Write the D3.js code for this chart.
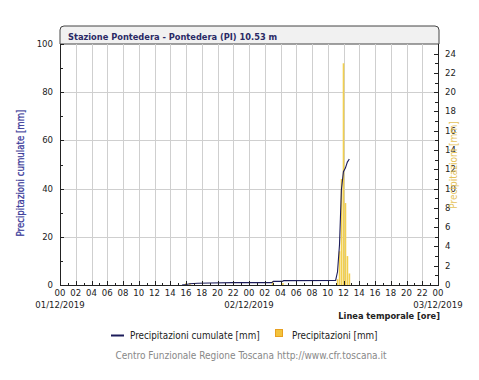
<!DOCTYPE html>
<html><head><meta charset="utf-8">
<script src="https://cdn.jsdelivr.net/npm/d3@7"></script>
<style>
body{margin:0;background:#fff;}
svg text{font-family:"DejaVu Sans Condensed","DejaVu Sans",sans-serif;}
</style></head>
<body><svg id="c" width="479" height="380"></svg>
<script>
// hours since 00:00 01/12/2019
const cumTimes  = [15.5, 16.0, 16.5, 17.5, 19.0, 22.0, 26.9, 27.1, 28.2, 28.4, 35.0, 35.24, 35.49, 35.73, 35.99, 36.24, 36.49, 36.74];
const cumValues = [0.0,  0.2,  0.5,  0.7,  0.8,  1.0,  1.0,  1.5,  1.5,  1.8,  1.9,  5.5,   16.6,  39.4,  47.0,  48.5,  51.0,  52.3];
const barTimes  = [16.0, 16.5, 27.0, 28.3, 35.25, 35.5, 35.75, 36.0, 36.25, 36.5, 36.75];
const barValues = [0.2,  0.2,  0.4,  0.2,  0.6,   3.5,  11.0,  23.0, 8.5,   3.0,  1.2];
const hourLabels = ["00","02","04","06","08","10","12","14","16","18","20","22",
                    "00","02","04","06","08","10","12","14","16","18","20","22","00"];
const dateLabels = [{h:0,t:"01/12/2019"},{h:24,t:"02/12/2019"},{h:48,t:"03/12/2019"}];
const leftTicks = [0,20,40,60,80,100];
const rightTicks = [0,2,4,6,8,10,12,14,16,18,20,22,24];

const svg = d3.select("#c");
const L=60, R=438, T=44, B=285;
const x = d3.scaleLinear().domain([0,48]).range([L,R]);
const yL = d3.scaleLinear().domain([0,100]).range([B,T]);
const yR = d3.scaleLinear().domain([0,25]).range([B,T]);
const navy = "#1c1c5a";

// title bar
const tb = svg.append("g");
tb.append("path")
  .attr("d", `M${L},${T} L${L},${26+4} Q${L},26 ${L+4},26 L${R+1-4},26 Q${R+1},26 ${R+1},30 L${R+1},${T} Z`)
  .attr("fill","#f1f1f1").attr("stroke","#444").attr("stroke-width",1);
tb.append("text").attr("x",68).attr("y",40).attr("font-size",9.2).attr("font-weight","bold")
  .attr("fill","#2a2a66").text("Stazione Pontedera - Pontedera (PI) 10.53 m");

// grid
const grid = svg.append("g").attr("stroke","#cfcfcf").attr("stroke-width",1);
d3.range(2,48,2).forEach(h=>{
  grid.append("line").attr("x1",Math.round(x(h))+0.5).attr("x2",Math.round(x(h))+0.5).attr("y1",T).attr("y2",B);
});
[20,40,60,80].forEach(v=>{
  grid.append("line").attr("x1",L).attr("x2",R).attr("y1",Math.round(yL(v))+0.5).attr("y2",Math.round(yL(v))+0.5);
});

// bars
svg.append("g").selectAll("rect").data(barTimes).join("rect")
  .attr("x",(d)=>x(d)-0.8).attr("width",1.6)
  .attr("y",(d,i)=>yR(barValues[i])).attr("height",(d,i)=>B-yR(barValues[i]))
  .attr("fill","#f2cf4e");

// line
svg.append("path").datum(cumTimes.map((t,i)=>[t,cumValues[i]]))
  .attr("d", d3.line().x(d=>x(d[0])).y(d=>yL(d[1])))
  .attr("fill","none").attr("stroke",navy).attr("stroke-width",1.1);

// axes frame
const ax = svg.append("g").attr("stroke","#222").attr("stroke-width",1);
ax.append("line").attr("x1",L+0.5).attr("x2",L+0.5).attr("y1",T).attr("y2",B);
ax.append("line").attr("x1",R+0.5).attr("x2",R+0.5).attr("y1",T).attr("y2",B);
ax.append("line").attr("x1",L).attr("x2",R+1).attr("y1",B+0.5).attr("y2",B+0.5);

// x ticks
d3.range(0,49,1).forEach(h=>{
  const xx=Math.round(x(h))+0.5;
  ax.append("line").attr("x1",xx).attr("x2",xx).attr("y1",B).attr("y2",B-(h%2===0?4:2));
});
// left ticks
d3.range(0,101,10).forEach(v=>{
  const yy=Math.round(yL(v))+0.5;
  ax.append("line").attr("x1",L).attr("x2",L+(v%20===0?4:3)).attr("y1",yy).attr("y2",yy);
});
// right ticks
d3.range(0,25,1).forEach(v=>{
  const yy=Math.round(yR(v))+0.5;
  ax.append("line").attr("x1",R).attr("x2",R-(v%2===0?4:3)).attr("y1",yy).attr("y2",yy);
});

const lab = svg.append("g").attr("font-size",9.5).attr("fill","#222");
hourLabels.forEach((t,i)=>{
  lab.append("text").attr("x",x(i*2)).attr("y",296).attr("text-anchor","middle").text(t);
});
dateLabels.forEach(d=>{
  lab.append("text").attr("x",x(d.h)).attr("y",308).attr("text-anchor","middle").text(d.t);
});
leftTicks.forEach(v=>{
  lab.append("text").attr("x",53).attr("y",yL(v)+3).attr("text-anchor","end").text(v);
});
rightTicks.forEach(v=>{
  lab.append("text").attr("x",445).attr("y",yR(v)+3).attr("text-anchor","start").text(v);
});

svg.append("text").attr("x",440).attr("y",319).attr("text-anchor","end").attr("font-size",9.2)
  .attr("font-weight","bold").attr("fill","#222").text("Linea temporale [ore]");

svg.append("text").attr("transform",`translate(24,173) rotate(-90)`).attr("text-anchor","middle")
  .attr("font-size",9.6).attr("fill","#3a3a9a").attr("stroke","#3a3a9a").attr("stroke-width",0.25)
  .text("Precipitazioni cumulate [mm]");
svg.append("text").attr("transform",`translate(457,165) rotate(-90)`).attr("text-anchor","middle")
  .attr("font-size",10).attr("fill","#e6c35a").text("Precipitazioni [mm]");

// legend
const lg = svg.append("g");
lg.append("line").attr("x1",111).attr("x2",124).attr("y1",335.5).attr("y2",335.5).attr("stroke",navy).attr("stroke-width",2);
lg.append("text").attr("x",130).attr("y",338.5).attr("font-size",9.8).attr("fill","#222").text("Precipitazioni cumulate [mm]");
lg.append("rect").attr("x",275.5).attr("y",329.5).attr("width",7).attr("height",7).attr("fill","#f3c33c").attr("stroke","#e8a020");
lg.append("text").attr("x",292).attr("y",338.5).attr("font-size",9.8).attr("fill","#222").text("Precipitazioni [mm]");

svg.append("text").attr("x",251).attr("y",359).attr("text-anchor","middle").attr("font-size",10)
  .attr("fill","#888").text("Centro Funzionale Regione Toscana http://www.cfr.toscana.it");
</script></body></html>
